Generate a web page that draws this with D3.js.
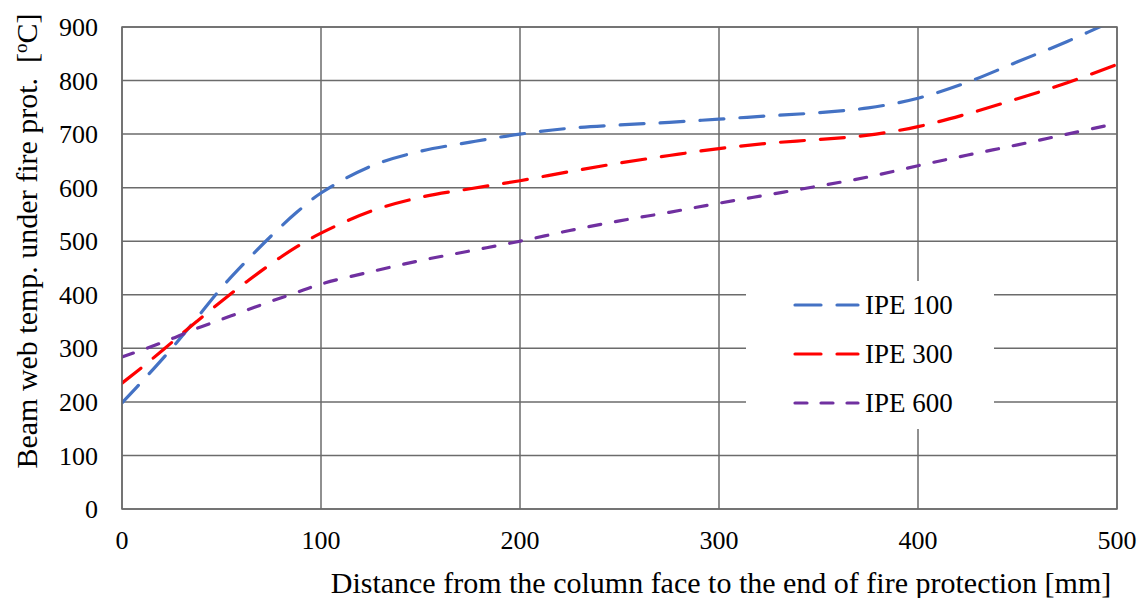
<!DOCTYPE html>
<html>
<head>
<meta charset="utf-8">
<script src="https://cdn.jsdelivr.net/npm/d3@7"></script>
<style>
  body { margin: 0; background: #fff; }
  text { font-family: "Times New Roman", "Liberation Serif", serif; fill: #000; }
</style>
</head>
<body>
<div id="chart"></div>
<script>
// chart data
var xValues = [0, 12.5, 25, 37.5, 50, 62.5, 75, 87.5, 100, 125, 150, 175, 200, 225, 250, 275, 300, 325, 350, 375, 400, 425, 450, 475, 500];
var ipe100 = [198, 248, 300, 356, 413, 463, 510, 553, 590, 640, 668, 685, 700, 711, 717, 722, 728, 734, 740, 749, 767, 797, 835, 873, 915];
var ipe300 = [235, 272, 311, 350, 388, 424, 458, 489, 515, 556, 582, 598, 613, 630, 646, 660, 673, 683, 690, 698, 714, 738, 766, 796, 830];
var ipe600 = [284, 300, 318, 337, 354, 371, 388, 404, 420, 443, 464, 482, 500, 520, 538, 554, 571, 587, 603, 620, 641, 661, 680, 700, 720];
var seriesNames = ["IPE 100", "IPE 300", "IPE 600"];
var xTicks = [0, 100, 200, 300, 400, 500];
var yTicks = [0, 100, 200, 300, 400, 500, 600, 700, 800, 900];

var width = 1143;
var height = 598;

// plot box (window.top is taken, so these get longer names)
var plotLeft = 122, plotRight = 1117, plotTop = 27, plotBottom = 509;

var svg = d3.select("#chart").append("svg")
  .attr("width", width)
  .attr("height", height);

var xScale = d3.scaleLinear().domain([0, 500]).range([plotLeft, plotRight]);
var yScale = d3.scaleLinear().domain([0, 900]).range([plotBottom, plotTop]);

var gridColor = "#6b6b6b";

// gridlines
svg.append("g").selectAll("line").data(yTicks).enter().append("line")
  .attr("x1", plotLeft).attr("x2", plotRight)
  .attr("y1", function(d) { return yScale(d); })
  .attr("y2", function(d) { return yScale(d); })
  .attr("stroke", gridColor).attr("stroke-width", 1.5);

svg.append("g").selectAll("line").data(xTicks).enter().append("line")
  .attr("y1", plotTop).attr("y2", plotBottom)
  .attr("x1", function(d) { return xScale(d); })
  .attr("x2", function(d) { return xScale(d); })
  .attr("stroke", gridColor).attr("stroke-width", 1.5);

// tick labels
svg.append("g").selectAll("text").data(yTicks).enter().append("text")
  .attr("x", 98)
  .attr("y", function(d) { return yScale(d); })
  .attr("dy", "0.35em")
  .attr("text-anchor", "end")
  .style("font-size", "26px")
  .text(function(d) { return d; });

svg.append("g").selectAll("text").data(xTicks).enter().append("text")
  .attr("x", function(d) { return xScale(d); })
  .attr("y", 540)
  .attr("dy", "0.35em")
  .attr("text-anchor", "middle")
  .style("font-size", "26px")
  .text(function(d) { return d; });

// axis titles
svg.append("text")
  .attr("x", 721).attr("y", 582)
  .attr("dy", "0.35em")
  .attr("text-anchor", "middle")
  .style("font-size", "30px")
  .text("Distance from the column face to the end of fire protection [mm]");

var yTitle = svg.append("text")
  .attr("transform", "translate(26,241) rotate(-90)")
  .attr("dy", "0.35em")
  .attr("text-anchor", "middle")
  .style("font-size", "30px")
  .style("white-space", "pre");
yTitle.append("tspan").text("Beam web temp. under fire prot.  [");
yTitle.append("tspan").attr("baseline-shift", "super").style("font-size", "19px").text("o");
yTitle.append("tspan").text("C]");

// curves
svg.append("clipPath").attr("id", "plotClip")
  .append("rect").attr("x", plotLeft).attr("y", plotTop)
  .attr("width", plotRight - plotLeft).attr("height", plotBottom - plotTop);

var lineGen = d3.line()
  .x(function(d) { return xScale(d[0]); })
  .y(function(d) { return yScale(d[1]); })
  .curve(d3.curveCatmullRom.alpha(0.5));

var allSeries = [ipe100, ipe300, ipe600];
var colors = ["#4472c4", "#ff0000", "#7030a0"];
var dashes = ["24,16", "24,16", "12,15"];

var curves = svg.append("g").attr("clip-path", "url(#plotClip)");
allSeries.forEach(function(vals, i) {
  var pts = xValues.map(function(x, j) { return [x, vals[j]]; });
  curves.append("path")
    .datum(pts)
    .attr("d", lineGen)
    .attr("fill", "none")
    .attr("stroke", colors[i])
    .attr("stroke-width", 3.2)
    .attr("stroke-linecap", "round")
    .attr("stroke-dasharray", dashes[i]);
});

// plot border on top
svg.append("rect")
  .attr("x", plotLeft).attr("y", plotTop)
  .attr("width", plotRight - plotLeft).attr("height", plotBottom - plotTop)
  .attr("fill", "none").attr("stroke", gridColor).attr("stroke-width", 1.5);

// legend
var legend = svg.append("g");
legend.append("rect")
  .attr("x", 746).attr("y", 281)
  .attr("width", 248).attr("height", 148)
  .attr("fill", "#fff");

var legendY = [305, 354, 403];
seriesNames.forEach(function(name, i) {
  legend.append("line")
    .attr("x1", 795).attr("x2", 858)
    .attr("y1", legendY[i]).attr("y2", legendY[i])
    .attr("stroke", colors[i])
    .attr("stroke-width", 3.2)
    .attr("stroke-linecap", "round")
    .attr("stroke-dasharray", i < 2 ? "26,16" : "12,14");
  legend.append("text")
    .attr("x", 865).attr("y", legendY[i])
    .attr("dy", "0.35em")
    .style("font-size", "27px")
    .text(name);
});
</script>
</body>
</html>
